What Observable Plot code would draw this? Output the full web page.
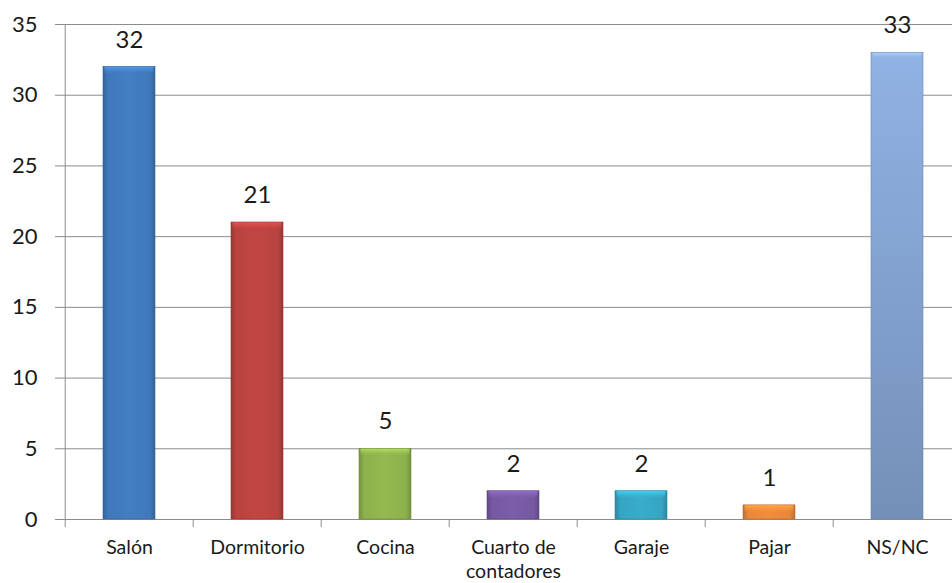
<!DOCTYPE html>
<html>
<head>
<meta charset="utf-8">
<script src="https://cdn.jsdelivr.net/npm/d3@7"></script>
<script src="https://cdn.jsdelivr.net/npm/@observablehq/plot@0.6"></script>
<style>
  html, body { margin: 0; padding: 0; background: #fff; }
  #chart svg { display: block; font-family: Lato, "Open Sans", sans-serif; color: #1a1a1a; }
</style>
</head>
<body>
<div id="chart"></div>
<script>
const categories = ["Salón", "Dormitorio", "Cocina", "Cuarto de\ncontadores", "Garaje", "Pajar", "NS/NC"];
const values = [32, 21, 5, 2, 2, 1, 33];
const yTicks = [0, 5, 10, 15, 20, 25, 30, 35];
const palette = ["#4079bb", "#b9433f", "#8db14c", "#7659a2", "#36a5c3", "#e8873a", "#86a6d4"];

const data = categories.map((c, i) => ({cat: c, value: values[i], fill: `url(#bar${i})`, top: `url(#top${i})`}));

const defsMark = () => {
  const defs = d3.create("svg:defs");
  palette.forEach((c, i) => {
    const vertical = i === palette.length - 1;
    const g = defs.append("linearGradient").attr("id", `bar${i}`)
      .attr("x1", 0).attr("y1", 0)
      .attr("x2", vertical ? 0 : 1).attr("y2", vertical ? 1 : 0);
    const dark = d3.color(c).darker(0.55).formatHex();
    const light = d3.color(c).brighter(0.12).formatHex();
    if (vertical) {
      [[0, d3.color(c).brighter(0.2).formatHex()], [1, d3.color(c).darker(0.4).formatHex()]]
        .forEach(([o, col]) => g.append("stop").attr("offset", o).attr("stop-color", col));
    } else {
      [[0, dark], [0.1, c], [0.5, light], [0.9, c], [1, dark]]
        .forEach(([o, col]) => g.append("stop").attr("offset", o).attr("stop-color", col));
    }
    const t = defs.append("linearGradient").attr("id", `top${i}`)
      .attr("x1", 0).attr("y1", 0).attr("x2", 0).attr("y2", 1);
    [[0, d3.color(c).brighter(0.7).formatHex(), 0.9], [1, d3.color(c).brighter(0.2).formatHex(), 0.3]]
      .forEach(([o, col, op]) => t.append("stop").attr("offset", o).attr("stop-color", col).attr("stop-opacity", op));
  });
  return defs.node();
};

const step = (963 - 63) / categories.length;

const chart = Plot.plot({
  width: 952,
  height: 583,
  marginLeft: 63,
  marginRight: -11,
  marginTop: 24,
  marginBottom: 64,
  x: {domain: categories, paddingInner: 0.59, paddingOuter: 0.295, axis: null, label: null},
  y: {domain: [0, 35], axis: null, label: null},
  color: {type: "identity"},
  marks: [
    defsMark,
    Plot.ruleY(yTicks, {y: d => d, stroke: "#8c8c8c", strokeWidth: 1, insetLeft: -8}),
    Plot.ruleX([categories[0]], {x: d => d, dx: -step / 2, y1: -0.57, y2: 35, stroke: "#8c8c8c"}),
    Plot.ruleX(categories.slice(1), {x: d => d, dx: -step / 2, y1: -0.57, y2: 0, stroke: "#8c8c8c"}),
    Plot.barY(data, {x: "cat", y: "value", fill: "fill", stroke: d => d3.color(palette[categories.indexOf(d.cat)]).darker(0.6).formatHex(), strokeWidth: 0.6}),
    Plot.barY(data, {x: "cat", y1: "value", y2: d => d.value - 0.45, fill: "top", insetLeft: 1.5, insetRight: 1.5, insetTop: 0.5}),
    Plot.text(data, {x: "cat", y: "value", text: d => String(d.value), dy: -27, fontSize: 24, fill: "#1a1a1a"}),
    Plot.axisY({ticks: yTicks, tickSize: 0, tickPadding: 26, fontSize: 22, tickFormat: d => String(d), label: null}),
    Plot.axisX({tickSize: 0, tickPadding: 17, fontSize: 19.5, lineHeight: 1.23, label: null})
  ]
});
document.getElementById("chart").appendChild(chart);
</script>
</body>
</html>
